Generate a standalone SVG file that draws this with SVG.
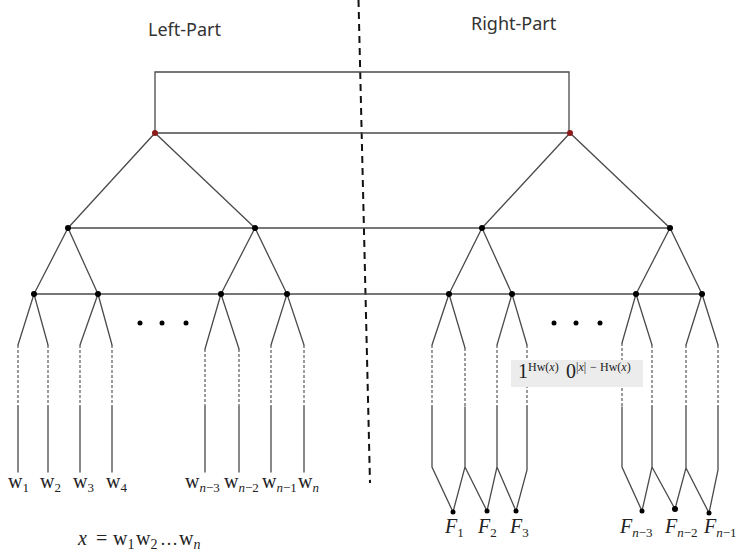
<svg xmlns="http://www.w3.org/2000/svg" width="736" height="556" viewBox="0 0 736 556">
<style>
.ln{stroke:#4a4a4a;stroke-width:1.3;fill:none;stroke-linecap:round}
.dl{stroke:#4a4a4a;stroke-width:1.1;fill:none;stroke-dasharray:3 2}
.sep{stroke:#111;stroke-width:2;fill:none;stroke-dasharray:7 5}
.dot{fill:#000}
.red{fill:#8b1a1a}
.title{font-family:"Noto Sans","Open Sans",sans-serif;font-size:18px;fill:#333}
.m{font-family:"Liberation Serif","Times New Roman",serif;font-size:20px;fill:#222}
.sub{font-size:13px}
.it{font-style:italic}
</style>
<rect width="736" height="556" fill="#fff"/>
<g id="titles">
<text class="title" x="148" y="36">Left-Part</text>
<text class="title" x="471" y="30">Right-Part</text>
</g>
<g id="connectors">
<line class="sep" x1="358.5" y1="0" x2="370" y2="483"/>
<path class="ln" d="M155,133 V72 H569 V133"/>
<line class="ln" x1="155" y1="133" x2="570" y2="133"/>
<line class="ln" x1="68" y1="228" x2="670" y2="228"/>
<line class="ln" x1="34" y1="294" x2="702" y2="294"/>
<path class="ln" d="M68,228 L155,133 L255,228 M482,228 L570,133 L670,228"/>
<path class="ln" d="M34,294 L68,228 L98,294 M221,294 L255,228 L287,294 M449,294 L482,228 L512,294 M636,294 L670,228 L702,294"/>
<path class="ln" d="M18,345 L34,294 L48,345 M80,345 L98,294 L112,345 M205,349 L221,294 L239,349 M271,345 L287,294 L304,345"/>
<path class="dl" d="M18,345 V407 M48,345 V407 M80,345 V407 M112,345 V407 M205,349 V407 M239,349 V407 M271,345 V407 M304,345 V407"/>
<path class="ln" d="M18,407 V472 M48,407 V472 M80,407 V472 M112,407 V472 M205,407 V472 M239,407 V472 M271,407 V472 M304,407 V472"/>
<path class="ln" d="M432,345 L449,294 L465,348 M497,345 L512,294 L527,345 M622,343 L636,294 L652,345 M686,345 L702,294 L718,345"/>
<path class="dl" d="M432,345 V407 M465,348 V407 M497,345 V407 M527,345 V407 M622,343 V407 M652,345 V407 M686,345 V407 M718,345 V407"/>
<path class="ln" d="M432,407 V467 L453,512 L465,467 V407 M465,467 L487,511 L497,467 V407 M497,467 L516,511 L527,470 V407"/>
<path class="ln" d="M622,407 V467 L642,511 L652,467 V407 M652,467 L675,509 L686,468 V407 M686,468 L709,513 L718,470 V407"/>
</g>
<g id="root-left"><circle class="red" cx="155" cy="133" r="3"/></g>
<g id="root-right"><circle class="red" cx="570" cy="133" r="3"/></g>
<g id="l2-nodes">
<circle class="dot" cx="68" cy="228" r="3"/>
<circle class="dot" cx="255" cy="228" r="3"/>
<circle class="dot" cx="482" cy="228" r="3"/>
<circle class="dot" cx="670" cy="228" r="3"/>
</g>
<g id="l3-nodes">
<circle class="dot" cx="34" cy="294" r="3"/>
<circle class="dot" cx="98" cy="294" r="3"/>
<circle class="dot" cx="221" cy="294" r="3"/>
<circle class="dot" cx="287" cy="294" r="3"/>
<circle class="dot" cx="449" cy="294" r="3"/>
<circle class="dot" cx="512" cy="294" r="3"/>
<circle class="dot" cx="636" cy="294" r="3"/>
<circle class="dot" cx="702" cy="294" r="3"/>
</g>
<g id="ellipsis-dots">
<circle class="dot" cx="140" cy="323" r="2.5"/>
<circle class="dot" cx="162" cy="323" r="2.5"/>
<circle class="dot" cx="186" cy="323" r="2.5"/>
<circle class="dot" cx="554" cy="323" r="2.5"/>
<circle class="dot" cx="576" cy="323" r="2.5"/>
<circle class="dot" cx="600" cy="323" r="2.5"/>
</g>
<g id="label-box">
<rect x="511" y="360" width="132" height="27" fill="#ececec"/>
<text class="m" y="378" font-size="17"><tspan x="518">1</tspan><tspan x="528" dy="-7" font-size="12">Hw(<tspan class="it">x</tspan>)</tspan><tspan x="566" dy="7">0</tspan><tspan x="576" dy="-7" font-size="12">|<tspan class="it">x</tspan>|</tspan><tspan x="590" font-size="12">−</tspan><tspan x="600" font-size="12">Hw(<tspan class="it">x</tspan>)</tspan></text>
</g>
<g id="w-labels">
<text class="m" x="8" y="488">w<tspan class="sub" dy="4">1</tspan></text>
<text class="m" x="40" y="488">w<tspan class="sub" dy="4">2</tspan></text>
<text class="m" x="73" y="488">w<tspan class="sub" dy="4">3</tspan></text>
<text class="m" x="106" y="488">w<tspan class="sub" dy="4">4</tspan></text>
<text class="m" x="185" y="488">w<tspan class="sub" dy="4"><tspan class="it">n</tspan>−3</tspan></text>
<text class="m" x="224" y="488">w<tspan class="sub" dy="4"><tspan class="it">n</tspan>−2</tspan></text>
<text class="m" x="262" y="488">w<tspan class="sub" dy="4"><tspan class="it">n</tspan>−1</tspan></text>
<text class="m" x="298" y="488">w<tspan class="sub it" dy="4">n</tspan></text>
</g>
<g id="f-nodes">
<circle class="dot" cx="453" cy="512" r="2.5"/>
<circle class="dot" cx="487" cy="511" r="2.5"/>
<circle class="dot" cx="516" cy="511" r="2.5"/>
<circle class="dot" cx="642" cy="511" r="2.5"/>
<circle class="dot" cx="675" cy="509" r="3"/>
<circle class="dot" cx="709" cy="513" r="2.5"/>
</g>
<g id="f-labels">
<text class="m it" x="445" y="533">F<tspan class="sub" font-style="normal" dy="4">1</tspan></text>
<text class="m it" x="478" y="533">F<tspan class="sub" font-style="normal" dy="4">2</tspan></text>
<text class="m it" x="510" y="533">F<tspan class="sub" font-style="normal" dy="4">3</tspan></text>
<text class="m it" x="620" y="533">F<tspan class="sub" dy="4">n<tspan font-style="normal">−3</tspan></tspan></text>
<text class="m it" x="665" y="533">F<tspan class="sub" dy="4">n<tspan font-style="normal">−2</tspan></tspan></text>
<text class="m it" x="704" y="533">F<tspan class="sub" dy="4">n<tspan font-style="normal">−1</tspan></tspan></text>
</g>
<g id="expression">
<text class="m" y="545" font-size="22"><tspan x="78" class="it">x</tspan><tspan x="96">=</tspan><tspan x="113">w</tspan><tspan dy="4" font-size="14">1</tspan><tspan x="136" dy="-4">w</tspan><tspan dy="4" font-size="14">2</tspan><tspan x="160" dy="-4" font-size="18">…</tspan><tspan x="179">w</tspan><tspan dy="4" font-size="14" class="it">n</tspan></text>
</g>
</svg>
